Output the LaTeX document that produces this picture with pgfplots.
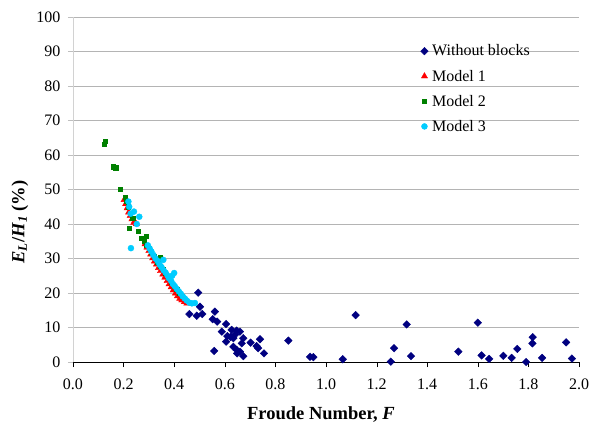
\documentclass[border=0pt]{standalone}
\usepackage{fontspec}
\setmainfont{Liberation Serif}
\usepackage{pgfplots}
\pgfplotsset{compat=1.18}

\definecolor{navyblk}{HTML}{000080}
\definecolor{mredd}{HTML}{FF0000}
\definecolor{mgreen}{HTML}{008000}
\definecolor{mcyan}{HTML}{00CCFF}
\definecolor{gridgray}{HTML}{B4B4B4}

\begin{document}
\begin{tikzpicture}
\useasboundingbox (-73bp,-63bp) rectangle (520bp,362bp);
\begin{axis}[
  at={(0,0)}, anchor=south west,
  scale only axis, width=506bp, height=345bp,
  xmin=0, xmax=2, ymin=0, ymax=100,
  xtick={0,0.2,...,2.0}, ytick={0,10,...,100},
  clip=false,
  axis lines*=left,
  x axis line style={black, -},
  y axis line style={draw=gray!35, -},
  tick align=outside,
  major tick length=5bp,
  xtick style={black},
  ytick style={gray!50},
  ymajorgrids, grid style={gridgray, line width=0.8bp},
  xticklabel style={yshift=-8bp, /pgf/number format/.cd, fixed, fixed zerofill, precision=1},
  yticklabel style={xshift=-4bp},
  /pgf/number format/assume math mode=true,
  tick label style={font=\fontsize{16bp}{19bp}\selectfont},
  xlabel={\textbf{Froude Number, \textit{F}}},
  ylabel={\textbf{\textit{E}\textsubscript{\textit{L}}/\textit{H}\textsubscript{\textit{1}} (\%)}},
  label style={font=\fontsize{18.5bp}{22bp}\selectfont},
  xlabel style={at={(axis description cs:0.49,-0.152)}, anchor=center},
  ylabel style={at={(axis description cs:-0.105,0.406)}, anchor=center},
  legend style={draw=none, fill=none, at={(axis description cs:0.68,0.93)}, anchor=north west,
    font=\fontsize{16bp}{19bp}\selectfont, row sep=9.5bp,
    nodes={inner sep=1.5bp}},
  legend cell align=left,
  legend image code/.code={\draw[#1] plot coordinates {(4bp,0bp)}; \path (0bp,0bp) (10bp,0bp);},
]
\addplot[only marks, mark=square*, mark size=2.7bp, mark options={rotate=45, fill=navyblk, draw=navyblk}] coordinates {
(0.495,20.1) (0.502,16.0) (0.460,13.9) (0.489,13.4) (0.511,13.9) (0.561,14.6)
(0.552,12.4) (0.570,11.7) (0.605,11.0) (0.588,8.8) (0.627,9.3) (0.647,9.1)
(0.660,8.8) (0.610,7.5) (0.623,7.3) (0.640,7.9) (0.605,5.9) (0.634,6.9)
(0.673,6.9) (0.667,5.4) (0.702,5.6) (0.739,6.6) (0.726,4.6) (0.732,4.0)
(0.634,4.4) (0.647,3.5) (0.660,3.0) (0.649,2.5) (0.673,1.7) (0.558,3.2)
(0.755,2.5) (0.851,6.2) (0.937,1.5) (0.950,1.4) (1.066,0.8) (1.117,13.6)
(1.256,0.1) (1.269,4.0) (1.319,10.9) (1.336,1.7) (1.523,3.0) (1.600,11.4)
(1.615,1.9) (1.645,0.9) (1.701,1.8) (1.734,1.2) (1.756,3.8) (1.791,0.0)
(1.816,5.4) (1.817,7.2) (1.854,1.2) (1.949,5.7) (1.972,1.0)
};
\addlegendentry{Without blocks}
\addplot[only marks, mark=triangle*, mark size=3.6bp, mark options={fill=mredd, draw=mredd}] coordinates {
(0.202,47.0) (0.208,45.8) (0.214,44.6) (0.220,43.4) (0.226,42.4) (0.233,41.4)
(0.240,40.4) (0.250,40.0) (0.285,34.2) (0.292,33.2) (0.300,32.2) (0.307,31.2)
(0.315,30.1) (0.322,29.2) (0.330,28.3) (0.338,27.3) (0.346,26.4) (0.355,25.4)
(0.363,24.5) (0.372,23.5) (0.380,22.6) (0.388,21.7) (0.396,20.8) (0.405,19.9)
(0.413,19.1) (0.422,18.4) (0.430,17.9) (0.440,17.4) (0.450,17.0)
};
\addlegendentry{Model 1}
\addplot[only marks, mark=square*, mark size=2.1bp, mark options={fill=mgreen, draw=mgreen}] coordinates {
(0.122,63.2) (0.127,63.9) (0.159,56.6) (0.169,56.3) (0.186,50.1) (0.205,47.8)
(0.212,46.5) (0.218,45.0) (0.221,38.7) (0.236,41.6) (0.258,37.8) (0.271,35.9)
(0.289,36.5) (0.280,35.0) (0.290,33.8) (0.300,33.0) (0.310,31.8) (0.320,30.6)
(0.344,30.3) (0.335,29.0) (0.345,27.8) (0.355,26.8) (0.365,25.8) (0.375,24.6)
(0.388,23.2) (0.400,22.0) (0.410,21.0) (0.420,20.0) (0.432,19.0)
};
\addlegendentry{Model 2}
\addplot[only marks, mark=*, mark size=3bp, mark options={fill=mcyan, draw=mcyan}] coordinates {
(0.219,46.5) (0.222,45.0) (0.228,43.0) (0.241,43.6) (0.262,42.1) (0.252,40.0)
(0.229,33.0) (0.296,33.8) (0.303,32.9) (0.310,32.0) (0.318,31.0) (0.326,30.0)
(0.334,29.3) (0.342,28.3) (0.350,27.5) (0.357,29.6) (0.358,26.6) (0.366,25.9)
(0.374,25.0) (0.380,24.2) (0.388,23.5) (0.392,25.0) (0.400,25.8) (0.395,22.6)
(0.402,22.0) (0.410,21.2) (0.418,20.5) (0.426,19.8) (0.434,19.0) (0.442,18.4)
(0.450,17.8) (0.460,17.2) (0.470,17.0) (0.482,17.1)
};
\addlegendentry{Model 3}
\end{axis}
\end{tikzpicture}
\end{document}
